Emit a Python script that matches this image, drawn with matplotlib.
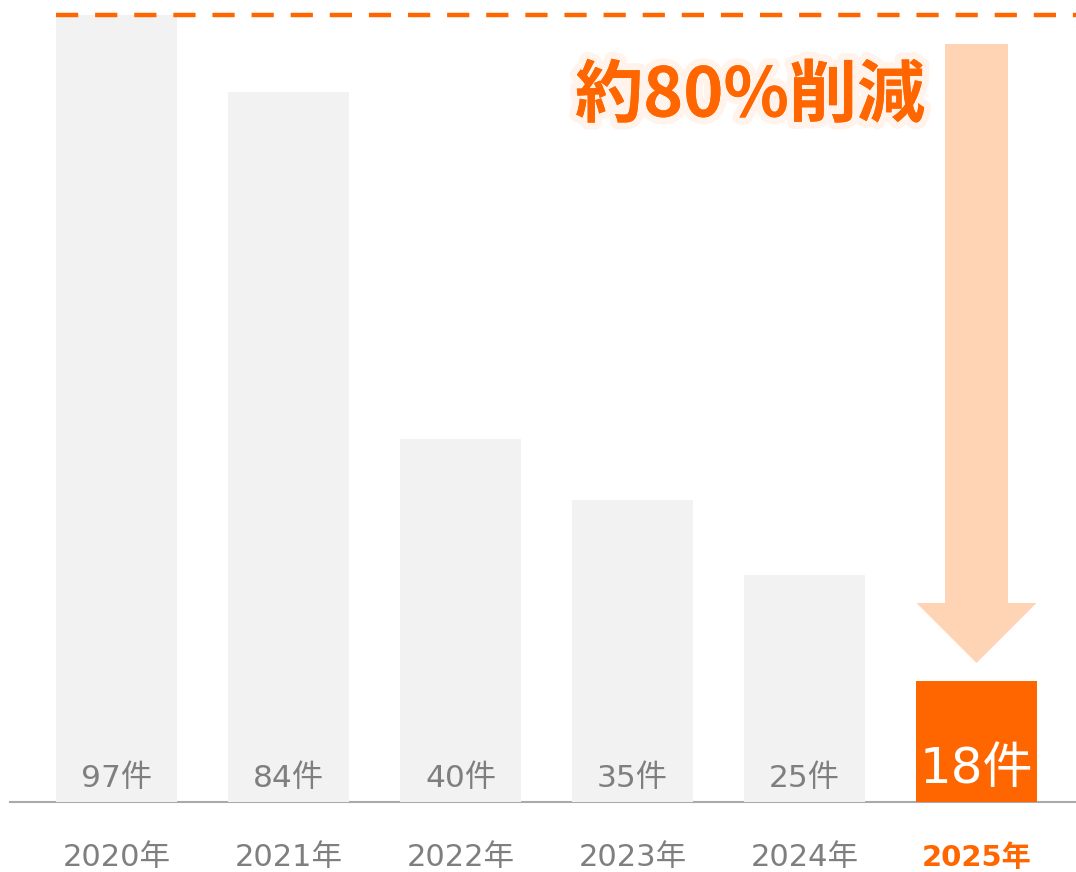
import matplotlib
matplotlib.use("Agg")
import matplotlib.pyplot as plt
from matplotlib.patches import Polygon
import matplotlib.patheffects as pe

plt.rcParams['font.family'] = ['DejaVu Sans', 'Noto Sans CJK JP']

years = ["2020年", "2021年", "2022年", "2023年", "2024年", "2025年"]
counts = ["97件", "84件", "40件", "35件", "25件", "18件"]
# displayed bar heights (in 2020=97 units)
heights = [97, 87.5, 44.8, 37.2, 28.0, 14.9]
reduction_text = "約80%削減"

ORANGE = "#FF6600"
GRAY_BAR = "#F2F2F2"
GRAY_TXT = "#7F7F7F"
ARROW = "#FFD4B5"

W, H = 1076, 872
fig = plt.figure(figsize=(W / 100, H / 100), dpi=100)
base_px = 802
ax = fig.add_axes([0, (H - base_px) / H, 1, base_px / H])
scale = 787 / 97.0  # px per unit
x0, step = 116.5, 172.0
ax.set_xlim((0 - x0) / step, (W - x0) / step)
ax.set_ylim(0, base_px / scale)
ax.axis('off')

xs = list(range(len(years)))
colors = [GRAY_BAR] * 5 + [ORANGE]
ax.plot([(10 - x0) / step, (W - x0) / step], [0, 0], color="#AAAAAA", lw=1.5, zorder=1, clip_on=False)
ax.bar(xs, heights, width=0.70, color=colors, zorder=2)

# dashed reference line at 2020 level
ax.plot([-0.35, (W - x0) / step], [heights[0], heights[0]], color=ORANGE, lw=3.2,
        dashes=(5, 3.8), zorder=3, clip_on=False)

for i, (c, y) in enumerate(zip(counts, years)):
    if i < 5:
        ax.text(i, 2.9, c, ha='center', va='center', fontsize=22.5, color=GRAY_TXT, zorder=4)
        ax.text(i, -6.9, y, ha='center', va='center', fontsize=22, color=GRAY_TXT, clip_on=False)
    else:
        ax.text(i, 4.1, c, ha='center', va='center', fontsize=36, color='white', zorder=4)
        ax.text(i, -6.9, y, ha='center', va='center', fontsize=21, color=ORANGE,
                fontweight='bold', clip_on=False)

# big arrow
ax_x = (976.5 - x0) / step
top = (base_px - 44) / scale
tip = (base_px - 663) / scale
head_len = 60 / scale
shaft_hw = 31.5 / step
head_hw = 60 / step
hb = tip + head_len
poly = Polygon([(ax_x - shaft_hw, top), (ax_x + shaft_hw, top), (ax_x + shaft_hw, hb),
                (ax_x + head_hw, hb), (ax_x, tip), (ax_x - head_hw, hb), (ax_x - shaft_hw, hb)],
               closed=True, color=ARROW, lw=0, zorder=3)
ax.add_patch(poly)

t = ax.text((750 - x0) / step, (base_px - 97) / scale, reduction_text, ha='center', va='center',
            fontsize=49, color=ORANGE, fontweight='bold', family=['Noto Sans CJK JP'], zorder=5)
t.set_path_effects([pe.withStroke(linewidth=10, foreground='#FFF3EB'), pe.Normal()])

fig.savefig("out.png", dpi=100)
